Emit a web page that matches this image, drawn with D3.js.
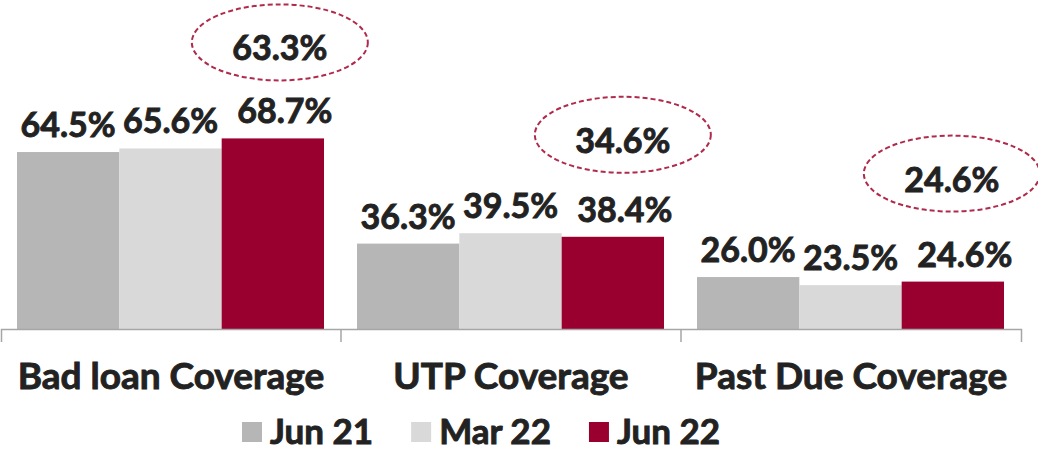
<!DOCTYPE html>
<html>
<head>
<meta charset="utf-8">
<script src="https://cdn.jsdelivr.net/npm/d3@7"></script>
<style>
	body { margin: 0; background: #fff; }
	svg { display: block; font-family: Lato, "Open Sans", sans-serif; font-weight: bold; }
	svg text { fill: #222; stroke: #222; stroke-width: 0.9px; }
</style>
</head>
<body>
<svg id="chart" width="1038" height="450"></svg>
<script>
var categories = ["Bad loan Coverage", "UTP Coverage", "Past Due Coverage"];
var seriesNames = ["Jun 21", "Mar 22", "Jun 22"];
var jun21 = [64.5, 36.3, 26.0];
var mar22 = [65.6, 39.5, 23.5];
var jun22 = [68.7, 38.4, 24.6];
var highlight = ["63.3%", "34.6%", "24.6%"];

var colors = ["#b6b6b6", "#d9d9d9", "#990030"];
// where each dashed ellipse sits, relative to the top of the Jun 22 bar
var noteOffset = [[7, -96], [10, -102], [-1, -108]];

var svg = d3.select("#chart"),
	width = +svg.attr("width"),
	baseY = 329;

var values = [jun21, mar22, jun22];

var x0 = d3.scaleBand()
	.domain(categories)
	.range([1, 1021]);
var x1 = d3.scaleBand()
	.domain(seriesNames)
	.range([16, x0.bandwidth() - 17]);
var y = d3.scaleLinear()
	.domain([10, 80])
	.range([baseY, baseY - 70 * 3.247]);

var rows = [];
categories.forEach(function(c, i) {
	seriesNames.forEach(function(s, j) {
		rows.push({ cat: c, ser: s, j: j, v: values[j][i] });
	});
});

/*
bars
*/
svg.append("g").selectAll("rect")
	.data(rows).enter()
	.append("rect")
	.attr("x", function(d) { return x0(d.cat) + x1(d.ser); })
	.attr("y", function(d) { return y(d.v); })
	.attr("width", x1.bandwidth())
	.attr("height", function(d) { return baseY - y(d.v); })
	.attr("fill", function(d) { return colors[d.j]; });

svg.append("g").selectAll("text")
	.data(rows).enter()
	.append("text")
	.attr("x", function(d) { return x0(d.cat) + x1(d.ser) + x1.bandwidth() / 2 + (d.j == 2 ? 12 : 0); })
	.attr("y", function(d) { return y(d.v) - 15; })
	.attr("text-anchor", "middle")
	.attr("font-size", 34)
	.text(function(d) { return d.v.toFixed(1) + "%"; });

/*
axis
*/
var axis = d3.axisBottom(x0).tickSizeInner(0).tickSizeOuter(13).tickFormat("");
var gAxis = svg.append("g")
	.attr("transform", "translate(0," + baseY + ")")
	.call(axis);
gAxis.select(".domain").attr("stroke", "#a6a6a6").attr("stroke-width", 1.5);
gAxis.selectAll(".tick").remove();
gAxis.selectAll("line.sep")
	.data(categories.slice(1)).enter()
	.append("line")
	.attr("class", "sep")
	.attr("x1", function(d) { return x0(d); })
	.attr("x2", function(d) { return x0(d); })
	.attr("y1", 0)
	.attr("y2", 13)
	.attr("stroke", "#a6a6a6")
	.attr("stroke-width", 1.5);

svg.append("g").selectAll("text")
	.data(categories).enter()
	.append("text")
	.attr("x", function(d) { return x0(d) + x0.bandwidth() / 2; })
	.attr("y", 389)
	.attr("text-anchor", "middle")
	.attr("font-size", 37)
	.text(function(d) { return d; });

/*
dashed notes
*/
var notes = svg.append("g").selectAll("g")
	.data(categories).enter()
	.append("g")
	.attr("transform", function(d, i) {
		var cx = x0(d) + x1(seriesNames[2]) + x1.bandwidth() / 2 + noteOffset[i][0],
			cy = y(jun22[i]) + noteOffset[i][1];
		return "translate(" + cx + "," + cy + ")";
	});
notes.append("ellipse")
	.attr("rx", 88)
	.attr("ry", 38)
	.attr("fill", "none")
	.attr("stroke", "#b02a4c")
	.attr("stroke-width", 2)
	.attr("stroke-dasharray", "5,3");
notes.append("text")
	.attr("text-anchor", "middle")
	.attr("y", 18)
	.attr("font-size", 34)
	.text(function(d, i) { return highlight[i]; });

/*
legend
*/
var legend = svg.append("g").attr("transform", "translate(242,0)");
var lx = 0;
seriesNames.forEach(function(s, j) {
	var item = legend.append("g").attr("transform", "translate(" + lx + ",0)");
	item.append("rect")
		.attr("x", 0).attr("y", 422)
		.attr("width", 20).attr("height", 20)
		.attr("fill", colors[j]);
	var t = item.append("text")
		.attr("x", 28).attr("y", 444)
		.attr("font-size", 35)
		.text(s);
	lx += 28 + t.node().getComputedTextLength() + 38;
});
</script>
</body>
</html>
